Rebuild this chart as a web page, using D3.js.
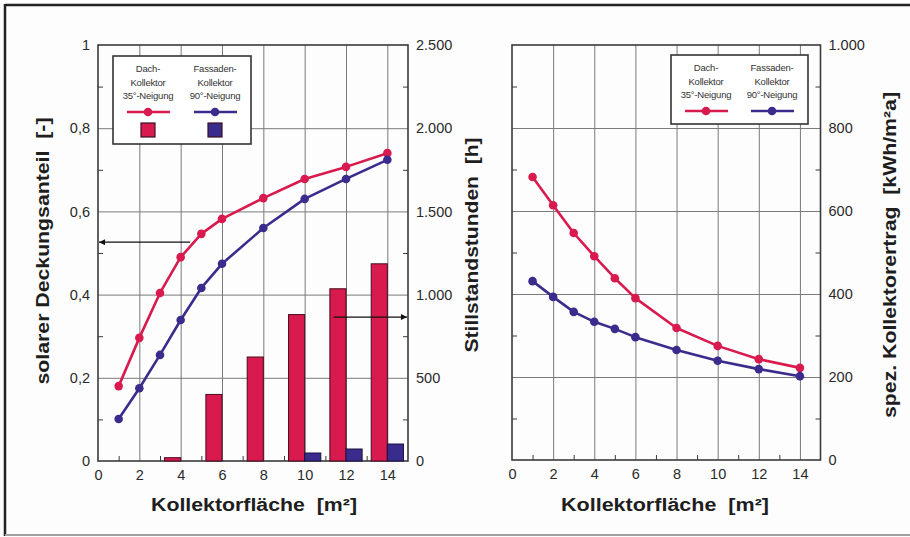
<!DOCTYPE html>
<html>
<head>
<meta charset="utf-8">
<script src="https://cdn.jsdelivr.net/npm/d3@7"></script>
<style>
  html, body { margin: 0; padding: 0; background: #fdfdfd; }
  svg { display: block; }
  text { font-family: "Liberation Sans", Arial, Helvetica, sans-serif; }
</style>
</head>
<body>
<svg id="chart" width="910" height="537"></svg>
<script>
// Collector area (m²) at which each configuration was simulated
const areas = [1, 2, 3, 4, 5, 6, 8, 10, 12, 14];

// Solar fraction [-]
const fractionRoof = [0.18, 0.296, 0.404, 0.49, 0.546, 0.582, 0.632, 0.678, 0.707, 0.74];
const fractionFacade = [0.101, 0.175, 0.255, 0.339, 0.416, 0.474, 0.56, 0.63, 0.678, 0.724];

// Stagnation hours [h]
const barAreas = [4, 6, 8, 10, 12, 14];
const idleRoof = [20, 400, 625, 880, 1035, 1185];
const idleFacade = [0, 0, 0, 48, 72, 102];

// Specific collector yield [kWh/m²a]
const yieldRoof = [682, 614, 547, 491, 438, 390, 318, 275, 243, 222];
const yieldFacade = [431, 393, 357, 333, 316, 296, 265, 239, 219, 202];

// Axis ticks and labels
const xTicks = [0, 2, 4, 6, 8, 10, 12, 14];
const fractionTicks = [0, 0.2, 0.4, 0.6, 0.8, 1];
const fractionLabels = ["0", "0,2", "0,4", "0,6", "0,8", "1"];
const hourTicks = [0, 500, 1000, 1500, 2000, 2500];
const hourLabels = ["0", "500", "1.000", "1.500", "2.000", "2.500"];
const yieldTicks = [0, 200, 400, 600, 800, 1000];
const yieldLabels = ["0", "200", "400", "600", "800", "1.000"];

// Legend entries
const seriesNames = [
  ["Dach-", "Kollektor", "35°-Neigung"],
  ["Fassaden-", "Kollektor", "90°-Neigung"]
];

const RED = "#d81a4e";
const BLUE = "#3a2c8c";
const GRID = "#7a7a7a";
const FRAME = "#3a3a3a";
const TXT = "#2a2a2a";

const svg = d3.select("#chart");

// outer frame of the figure
svg.append("line").attr("x1", 5).attr("y1", 5).attr("x2", 910).attr("y2", 5)
  .attr("stroke", "#222").attr("stroke-width", 2.5);
svg.append("line").attr("x1", 5).attr("y1", 4).attr("x2", 5).attr("y2", 536)
  .attr("stroke", "#222").attr("stroke-width", 2.5);
svg.append("line").attr("x1", 5).attr("y1", 535).attr("x2", 910).attr("y2", 535)
  .attr("stroke", "#a0a0a0").attr("stroke-width", 2);

// arrowhead
svg.append("defs").append("marker")
  .attr("id", "arrow").attr("viewBox", "0 0 10 10")
  .attr("refX", 10).attr("refY", 5)
  .attr("markerWidth", 9).attr("markerHeight", 6)
  .attr("markerUnits", "userSpaceOnUse")
  .attr("orient", "auto")
  .append("path").attr("d", "M0,0 L10,5 L0,10 Z").attr("fill", "#111");

function panel(opts) {
  const { x, y, y2 } = opts;
  const [x0, x1] = x.range();
  const [yb, yt] = y.range();
  const g = svg.append("g");

  // gridlines
  g.append("g").attr("transform", `translate(0,${yb})`)
    .call(d3.axisBottom(x).tickValues(xTicks.filter(v => v > 0)).tickSize(-(yb - yt)).tickFormat(""))
    .call(s => s.select(".domain").remove())
    .call(s => s.selectAll("line").attr("stroke", GRID).attr("stroke-width", 1));
  g.append("g").attr("transform", `translate(${x0},0)`)
    .call(d3.axisLeft(y).tickValues(opts.yTicks.slice(1, -1)).tickSize(-(x1 - x0)).tickFormat(""))
    .call(s => s.select(".domain").remove())
    .call(s => s.selectAll("line").attr("stroke", GRID).attr("stroke-width", 1));

  // minor ticks pointing inward
  const yStep = opts.yTicks[1] - opts.yTicks[0];
  const yMinor = opts.yTicks.slice(0, -1).map(v => v + yStep / 2);
  const xMinor = [1, 3, 5, 7, 9, 11, 13];
  g.append("g").attr("transform", `translate(0,${yb})`)
    .call(d3.axisBottom(x).tickValues(xMinor).tickSize(-5).tickFormat(""))
    .call(s => s.select(".domain").remove())
    .call(s => s.selectAll("line").attr("stroke", FRAME));
  g.append("g").attr("transform", `translate(${x0},0)`)
    .call(d3.axisLeft(y).tickValues(yMinor).tickSize(-5).tickFormat(""))
    .call(s => s.select(".domain").remove())
    .call(s => s.selectAll("line").attr("stroke", FRAME));
  g.append("g").attr("transform", `translate(${x1},0)`)
    .call(d3.axisRight(y).tickValues(yMinor).tickSize(-5).tickFormat(""))
    .call(s => s.select(".domain").remove())
    .call(s => s.selectAll("line").attr("stroke", FRAME));

  // tick labels
  const xa = g.append("g").attr("transform", `translate(0,${yb})`)
    .call(d3.axisBottom(x).tickValues(xTicks).tickSize(0).tickPadding(9));
  xa.select(".domain").remove();
  xa.selectAll("text").attr("font-size", 14.5).attr("fill", TXT)
    .attr("font-family", "Liberation Sans, Arial, sans-serif");

  if (opts.leftLabels) {
    const ya = g.append("g").attr("transform", `translate(${x0},0)`)
      .call(d3.axisLeft(y).tickValues(opts.yTicks).tickSize(0).tickPadding(8)
        .tickFormat((d, i) => opts.leftLabels[i]));
    ya.select(".domain").remove();
    ya.selectAll("text").attr("font-size", 14.5).attr("fill", TXT)
      .attr("font-family", "Liberation Sans, Arial, sans-serif");
  }
  const ra = g.append("g").attr("transform", `translate(${x1},0)`)
    .call(d3.axisRight(y2).tickValues(opts.rightTicks).tickSize(0).tickPadding(8)
      .tickFormat((d, i) => opts.rightLabels[i]));
  ra.select(".domain").remove();
  ra.selectAll("text").attr("font-size", 14.5).attr("fill", TXT)
    .attr("font-family", "Liberation Sans, Arial, sans-serif");

  // plot frame
  g.append("rect").attr("x", x0).attr("y", yt).attr("width", x1 - x0).attr("height", yb - yt)
    .attr("fill", "none").attr("stroke", FRAME).attr("stroke-width", 1.6);

  return g;
}

function drawSeries(g, x, y, values, color) {
  const pts = areas.map((a, i) => [a, values[i]]);
  g.append("path").datum(pts)
    .attr("fill", "none").attr("stroke", color).attr("stroke-width", 2.6)
    .attr("stroke-linejoin", "round")
    .attr("d", d3.line().x(d => x(d[0])).y(d => y(d[1])));
  g.selectAll(null).data(pts).enter().append("circle")
    .attr("cx", d => x(d[0])).attr("cy", d => y(d[1])).attr("r", 4.3)
    .attr("fill", color);
}

function legend(g, bx, by, bw, bh, cols, withBars) {
  g.append("rect").attr("x", bx).attr("y", by).attr("width", bw).attr("height", bh)
    .attr("fill", "#fff").attr("stroke", "#333").attr("stroke-width", 1.6);
  const colors = [RED, BLUE];
  const lineY = withBars ? 112 : 111;
  seriesNames.forEach((lines, k) => {
    const cx = cols[k];
    lines.forEach((t, j) => {
      g.append("text").attr("x", cx).attr("y", by + 13 + j * 13.3)
        .attr("dy", "0.35em").attr("text-anchor", "middle")
        .attr("font-size", 9.5).attr("fill", "#333").attr("letter-spacing", -0.2)
        .text(t);
    });
    g.append("line").attr("x1", cx - 21).attr("x2", cx + 22).attr("y1", lineY).attr("y2", lineY)
      .attr("stroke", colors[k]).attr("stroke-width", 2.6);
    g.append("circle").attr("cx", cx).attr("cy", lineY).attr("r", 4.3).attr("fill", colors[k]);
    if (withBars) {
      g.append("rect").attr("x", cx - 7).attr("y", 123).attr("width", 14).attr("height", 14)
        .attr("fill", colors[k]).attr("stroke", "#3a1020").attr("stroke-width", 1.2);
    }
  });
}

function axisTitle(x, y, rot, text, len) {
  svg.append("text")
    .attr("transform", `translate(${x},${y}) rotate(${rot})`)
    .attr("text-anchor", "middle").attr("dy", "0.35em")
    .attr("font-size", 18).attr("font-weight", "bold").attr("fill", "#1e1e1e")
    .attr("xml:space", "preserve").style("white-space", "pre")
    .attr("textLength", len).attr("lengthAdjust", "spacingAndGlyphs")
    .text(text);
}

// ---------- left panel: solar fraction and stagnation hours ----------
const xL = d3.scaleLinear().domain([0, 15]).range([98, 408]);
const yL = d3.scaleLinear().domain([0, 1]).range([461, 45]);
const hL = d3.scaleLinear().domain([0, 2500]).range([461, 45]);

const gL = panel({ x: xL, y: yL, y2: hL, yTicks: fractionTicks, leftLabels: fractionLabels,
  rightTicks: hourTicks, rightLabels: hourLabels });

// stagnation-hour bars: roof collector left of the grid line, facade right of it
const bw = xL(0.78) - xL(0);
gL.selectAll(null).data(barAreas.map((a, i) => ({ a, v: idleRoof[i] })).filter(d => d.v > 0))
  .enter().append("rect")
  .attr("x", d => xL(d.a) - bw).attr("width", bw)
  .attr("y", d => hL(d.v)).attr("height", d => hL(0) - hL(d.v))
  .attr("fill", RED).attr("stroke", "#4a0a20").attr("stroke-width", 1);
gL.selectAll(null).data(barAreas.map((a, i) => ({ a, v: idleFacade[i] })).filter(d => d.v > 0))
  .enter().append("rect")
  .attr("x", d => xL(d.a)).attr("width", bw)
  .attr("y", d => hL(d.v)).attr("height", d => hL(0) - hL(d.v))
  .attr("fill", BLUE).attr("stroke", "#1a1040").attr("stroke-width", 1);

drawSeries(gL, xL, yL, fractionRoof, RED);
drawSeries(gL, xL, yL, fractionFacade, BLUE);

// arrows pointing to the axis each curve set belongs to
gL.append("line").attr("x1", xL(4.45)).attr("x2", xL(0.05)).attr("y1", yL(0.526)).attr("y2", yL(0.526))
  .attr("stroke", "#111").attr("stroke-width", 1.2).attr("marker-end", "url(#arrow)");
gL.append("line").attr("x1", xL(11.4)).attr("x2", xL(14.95)).attr("y1", hL(865)).attr("y2", hL(865))
  .attr("stroke", "#111").attr("stroke-width", 1.2).attr("marker-end", "url(#arrow)");

legend(gL, 113, 56, 138, 88, [148, 215], true);

// ---------- right panel: specific collector yield ----------
const xR = d3.scaleLinear().domain([0, 15]).range([512, 820.5]);
const yR = d3.scaleLinear().domain([0, 1000]).range([460, 45]);

const gR = panel({ x: xR, y: yR, y2: yR, yTicks: yieldTicks, leftLabels: null,
  rightTicks: yieldTicks, rightLabels: yieldLabels });

drawSeries(gR, xR, yR, yieldRoof, RED);
drawSeries(gR, xR, yR, yieldFacade, BLUE);

legend(gR, 671, 55, 137, 69, [706, 772], false);

// ---------- axis titles ----------
axisTitle(43, 251, -90, "solarer Deckungsanteil  [-]", 267);
axisTitle(472, 245, -90, "Stillstandstunden  [h]", 215);
axisTitle(890, 255, -90, "spez. Kollektorertrag  [kWh/m²a]", 326);
axisTitle(254, 505, 0, "Kollektorfläche  [m²]", 206);
axisTitle(665, 505, 0, "Kollektorfläche  [m²]", 208);
</script>
</body>
</html>
